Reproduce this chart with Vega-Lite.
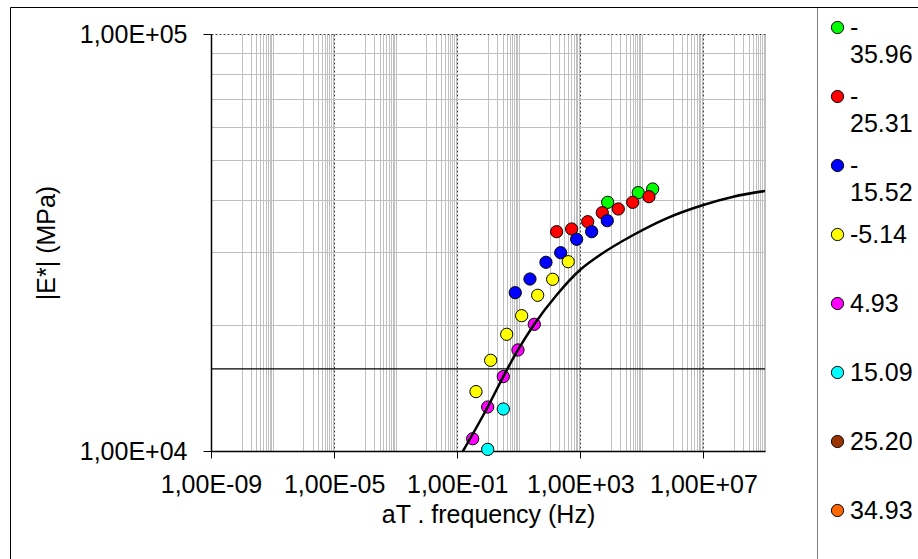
{
  "$schema": "https://vega.github.io/schema/vega-lite/v6.json",
  "width": 554,
  "height": 417,
  "autosize": "none",
  "padding": {"left": 211, "top": 34, "right": 153, "bottom": 108},
  "background": "white",
  "config": {"view": {"stroke": null}, "font": "Liberation Sans"},
  "datasets": {
    "ref": [{"E": 15730, "k": "frame"}],
    "points": [
      {"f": 7730, "E": 39480, "T": "-35.96"},
      {"f": 76200, "E": 41640, "T": "-35.96"},
      {"f": 224000, "E": 42490, "T": "-35.96"},
      {"f": 170, "E": 33570, "T": "-25.31"},
      {"f": 523, "E": 34070, "T": "-25.31"},
      {"f": 1734, "E": 35470, "T": "-25.31"},
      {"f": 5164, "E": 37280, "T": "-25.31"},
      {"f": 17100, "E": 38050, "T": "-25.31"},
      {"f": 50100, "E": 39480, "T": "-25.31"},
      {"f": 169800, "E": 40720, "T": "-25.31"},
      {"f": 7.69, "E": 23970, "T": "-15.52"},
      {"f": 23.1, "E": 25850, "T": "-15.52"},
      {"f": 76.5, "E": 28350, "T": "-15.52"},
      {"f": 229.8, "E": 29890, "T": "-15.52"},
      {"f": 760, "E": 32190, "T": "-15.52"},
      {"f": 2335, "E": 33570, "T": "-15.52"},
      {"f": 7500, "E": 35670, "T": "-15.52"},
      {"f": 0.407, "E": 13880, "T": "-5.14"},
      {"f": 1.22, "E": 16500, "T": "-5.14"},
      {"f": 4.05, "E": 19050, "T": "-5.14"},
      {"f": 12.4, "E": 21110, "T": "-5.14"},
      {"f": 41.1, "E": 23630, "T": "-5.14"},
      {"f": 126, "E": 25810, "T": "-5.14"},
      {"f": 405, "E": 28440, "T": "-5.14"},
      {"f": 0.318, "E": 10700, "T": "4.93"},
      {"f": 0.977, "E": 12750, "T": "4.93"},
      {"f": 3.14, "E": 15080, "T": "4.93"},
      {"f": 9.42, "E": 17470, "T": "4.93"},
      {"f": 31.9, "E": 20130, "T": "4.93"},
      {"f": 0.977, "E": 10090, "T": "15.09"},
      {"f": 3.14, "E": 12610, "T": "15.09"}
    ],
    "curve": [
      {"f": 0.1396, "E": 9874},
      {"f": 0.977, "E": 12750},
      {"f": 3.14, "E": 15080},
      {"f": 9.42, "E": 17470},
      {"f": 31.9, "E": 20130},
      {"f": 170, "E": 23660},
      {"f": 973, "E": 27160},
      {"f": 4345, "E": 29510},
      {"f": 52500, "E": 32960},
      {"f": 638000, "E": 36140},
      {"f": 9860000, "E": 38900},
      {"f": 93000000, "E": 40720},
      {"f": 1000000000, "E": 42030}
    ]
  },
  "layer": [
    {
      "data": {"name": "points"},
      "mark": {"type": "point", "shape": "circle", "filled": true, "stroke": "black", "strokeWidth": 1, "size": 150, "opacity": 1},
      "encoding": {
        "x": {
          "field": "f", "type": "quantitative",
          "scale": {"type": "log", "domain": [0.000000001, 1000000000], "nice": false},
          "axis": {
            "title": "aT . frequency (Hz)",
            "values": [0.000000001,
              0.00000001, 0.00000002, 0.00000003, 0.00000004, 0.00000005, 0.00000006, 0.00000007, 0.00000008, 0.00000009, 0.0000001,
              0.000001, 0.000002, 0.000003, 0.000004, 0.000005, 0.000006, 0.000007, 0.000008, 0.000009, 0.00001,
              0.0001, 0.0002, 0.0003, 0.0004, 0.0005, 0.0006, 0.0007, 0.0008, 0.0009, 0.001,
              0.01, 0.02, 0.03, 0.04, 0.05, 0.06, 0.07, 0.08, 0.09, 0.1,
              1, 2, 3, 4, 5, 6, 7, 8, 9, 10,
              100, 200, 300, 400, 500, 600, 700, 800, 900, 1000,
              10000, 20000, 30000, 40000, 50000, 60000, 70000, 80000, 90000, 100000,
              1000000, 2000000, 3000000, 4000000, 5000000, 6000000, 7000000, 8000000, 9000000, 10000000,
              100000000, 200000000, 300000000, 400000000, 500000000, 600000000, 700000000, 800000000, 900000000, 1000000000],
            "grid": true,
            "gridColor": {"condition": {"test": "indexof([0.00001,0.1,1000,10000000], datum.value) >= 0", "value": "#404040"}, "value": "#c0c0c0"},
            "gridDash": {"condition": {"test": "indexof([0.00001,0.1,1000,10000000], datum.value) >= 0", "value": [2, 2]}, "value": []},
            "gridWidth": 1,
            "domainColor": "black",
            "domainWidth": 1.5,
            "tickSize": 7,
            "tickColor": "black",
            "tickWidth": 1,
            "tickOpacity": {"condition": {"test": "indexof([0.000000001,0.00001,0.1,1000,10000000], datum.value) >= 0", "value": 1}, "value": 0},
            "labelExpr": "indexof([0.000000001,0.00001,0.1,1000,10000000], datum.value) >= 0 ? '1,00E' + (datum.value < 1 ? '-0' : '+0') + abs(round(log(datum.value)/LN10)) : ''",
            "labelOverlap": false,
            "labelFlush": false,
            "labelFont": "Liberation Sans",
            "labelFontSize": 25,
            "labelColor": "black",
            "labelPadding": 14,
            "titleFont": "Liberation Sans",
            "titleFontSize": 25,
            "titleFontWeight": "normal",
            "titleColor": "black",
            "titlePadding": 5
          }
        },
        "y": {
          "field": "E", "type": "quantitative",
          "scale": {"type": "log", "domain": [10000, 100000], "nice": false},
          "axis": {
            "title": "|E*| (MPa)",
            "values": [10000, 20000, 30000, 40000, 50000, 60000, 70000, 80000, 90000, 100000],
            "grid": true,
            "gridColor": {"condition": {"test": "datum.value == 100000", "value": "#404040"}, "value": "#c0c0c0"},
            "gridDash": {"condition": {"test": "datum.value == 100000", "value": [2, 2]}, "value": []},
            "gridWidth": 1,
            "domainColor": "black",
            "domainWidth": 1.5,
            "tickSize": 8,
            "tickColor": "black",
            "tickWidth": 1,
            "tickOpacity": {"condition": {"test": "datum.value == 10000 || datum.value == 100000", "value": 1}, "value": 0},
            "labelExpr": "datum.value == 10000 ? '1,00E+04' : datum.value == 100000 ? '1,00E+05' : ''",
            "labelOverlap": false,
            "labelFlush": false,
            "labelFont": "Liberation Sans",
            "labelFontSize": 25,
            "labelColor": "black",
            "labelPadding": 16,
            "titleFont": "Liberation Sans",
            "titleFontSize": 25,
            "titleFontWeight": "normal",
            "titleColor": "black",
            "titlePadding": 20
          }
        },
        "fill": {
          "field": "T", "type": "nominal",
          "scale": {
            "domain": ["-35.96", "-25.31", "-15.52", "-5.14", "4.93", "15.09", "25.20", "34.93"],
            "range": ["#00ff00", "#ff0000", "#0000ff", "#ffff00", "#ff00ff", "#00ffff", "#993300", "#ff6600"]
          },
          "legend": {
            "orient": "none",
            "legendX": 606,
            "legendY": -27,
            "title": null,
            "strokeColor": "#808080",
            "padding": 8,
            "symbolType": "circle",
            "symbolSize": 150,
            "symbolStrokeColor": "black",
            "symbolStrokeWidth": 1,
            "labelFont": "Liberation Sans",
            "labelFontSize": 25,
            "labelColor": "black",
            "labelOffset": 0,
            "labelLineHeight": 28,
            "rowPadding": 16,
            "labelExpr": "substring(datum.label, 0, 1) == '-' && length(datum.label) > 5 ? ['-', substring(datum.label, 1)] : [datum.label, ' ']"
          }
        }
      }
    },
    {
      "data": {"name": "ref"},
      "mark": {"type": "rule", "color": "black", "strokeWidth": 1.2},
      "encoding": {
        "y": {"field": "E", "type": "quantitative", "scale": {"type": "log", "domain": [10000, 100000], "nice": false}, "title": "|E*| (MPa)"},
        "opacity": {
          "field": "k", "type": "ordinal", "scale": {"range": [1, 1]},
          "legend": {"orient": "none", "legendX": -201, "legendY": -27, "title": null, "strokeColor": "black", "padding": 0, "symbolType": "circle", "symbolSize": 1000000, "symbolOpacity": 0, "symbolStrokeWidth": 0, "labelExpr": "''"}
        }
      }
    },
    {
      "data": {"name": "curve"},
      "mark": {"type": "line", "color": "black", "strokeWidth": 2.5, "interpolate": "monotone", "clip": true},
      "encoding": {
        "x": {"field": "f", "type": "quantitative", "scale": {"type": "log", "domain": [0.000000001, 1000000000], "nice": false}, "title": "aT . frequency (Hz)"},
        "y": {"field": "E", "type": "quantitative", "scale": {"type": "log", "domain": [10000, 100000], "nice": false}, "title": "|E*| (MPa)"}
      }
    }
  ]
}
